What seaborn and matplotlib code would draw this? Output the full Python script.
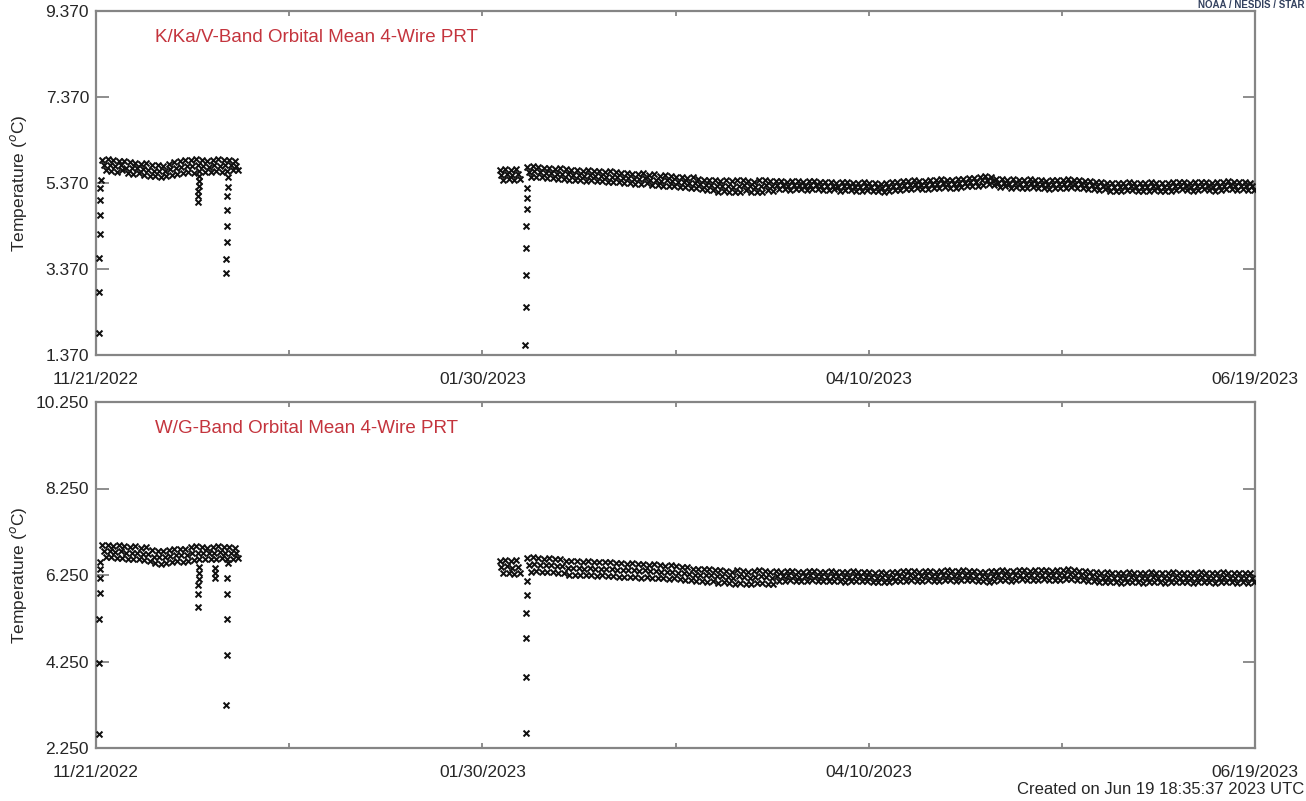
import numpy as np
import pandas as pd
import matplotlib
matplotlib.use("Agg")
import matplotlib.pyplot as plt
import matplotlib.dates as mdates
import seaborn as sns

# ---------------------------------------------------------------------------
# Orbital-mean PRT temperatures (deg C).  Each segment lists, per day, the
# warmest, a typical and the coolest orbital mean of that day; the transient
# lists hold single orbits after instrument restarts.
# ---------------------------------------------------------------------------
START_DATE = "2022-11-21"
END_DATE = "2023-06-19"

# K/Ka/V-band
kav_seg1_day0 = 1
kav_seg1_hi = [5.91, 5.93, 5.91, 5.88, 5.88, 5.86, 5.83, 5.81, 5.83, 5.79, 5.79, 5.77, 5.81,
               5.86, 5.88, 5.91, 5.91, 5.93, 5.91, 5.88, 5.91, 5.93, 5.91, 5.91, 5.88]
kav_seg1_mid = [5.80, 5.78, 5.77, 5.79, 5.73, 5.72, 5.71, 5.69, 5.67, 5.66, 5.66, 5.64, 5.69,
                5.73, 5.74, 5.76, 5.77, 5.78, 5.77, 5.75, 5.79, 5.77, 5.78, 5.80, 5.77]
kav_seg1_lo = [5.67, 5.65, 5.63, 5.67, 5.60, 5.58, 5.60, 5.56, 5.53, 5.53, 5.51, 5.53, 5.56,
               5.58, 5.60, 5.63, 5.60, 5.65, 5.63, 5.63, 5.65, 5.63, 5.65, 5.67, 5.67]
kav_seg2_day0 = 73
kav_seg2_hi = [5.67, 5.70, 5.67, 5.70]
kav_seg2_mid = [5.56, 5.57, 5.55, 5.58]
kav_seg2_lo = [5.44, 5.46, 5.44, 5.46]
kav_seg3_day0 = 78
kav_seg3_hi = [5.75, 5.77, 5.75, 5.72, 5.73, 5.70, 5.71, 5.70, 5.68, 5.67,
               5.65, 5.68, 5.65, 5.66, 5.63, 5.64, 5.62, 5.61, 5.60, 5.58,
               5.59, 5.61, 5.56, 5.57, 5.54, 5.56, 5.53, 5.51, 5.52, 5.49,
               5.50, 5.47, 5.44, 5.45, 5.43, 5.42, 5.44, 5.41, 5.43, 5.44,
               5.42, 5.40, 5.43, 5.45, 5.42, 5.41, 5.42, 5.39, 5.41, 5.42,
               5.39, 5.41, 5.42, 5.39, 5.39, 5.40, 5.37, 5.39, 5.40, 5.37,
               5.36, 5.39, 5.37, 5.36, 5.34, 5.37, 5.39, 5.40, 5.41, 5.42,
               5.44, 5.41, 5.42, 5.44, 5.43, 5.46, 5.44, 5.43, 5.46, 5.47,
               5.48, 5.49, 5.52, 5.54, 5.51, 5.46, 5.47, 5.44, 5.46, 5.44,
               5.43, 5.46, 5.44, 5.43, 5.41, 5.44, 5.43, 5.44, 5.46, 5.43,
               5.44, 5.41, 5.42, 5.39, 5.40, 5.37, 5.36, 5.37, 5.38, 5.39,
               5.37, 5.36, 5.37, 5.39, 5.37, 5.36, 5.37, 5.39, 5.40, 5.39,
               5.37, 5.39, 5.40, 5.39, 5.37, 5.39, 5.40, 5.41, 5.39, 5.40, 5.39, 5.38]
kav_seg3_mid = [5.63, 5.64, 5.62, 5.61, 5.60, 5.58, 5.59, 5.58, 5.56, 5.55,
                5.53, 5.55, 5.53, 5.54, 5.51, 5.52, 5.50, 5.49, 5.48, 5.46,
                5.47, 5.48, 5.44, 5.45, 5.42, 5.44, 5.41, 5.39, 5.40, 5.37,
                5.38, 5.35, 5.32, 5.33, 5.30, 5.30, 5.31, 5.28, 5.30, 5.32,
                5.30, 5.27, 5.30, 5.33, 5.30, 5.32, 5.33, 5.30, 5.32, 5.33,
                5.30, 5.32, 5.33, 5.30, 5.30, 5.31, 5.28, 5.30, 5.31, 5.28,
                5.27, 5.30, 5.28, 5.27, 5.25, 5.28, 5.30, 5.31, 5.32, 5.33,
                5.35, 5.32, 5.33, 5.35, 5.34, 5.37, 5.35, 5.34, 5.37, 5.38,
                5.39, 5.40, 5.43, 5.45, 5.42, 5.37, 5.38, 5.35, 5.37, 5.35,
                5.34, 5.37, 5.35, 5.34, 5.32, 5.35, 5.34, 5.35, 5.37, 5.34,
                5.35, 5.32, 5.33, 5.30, 5.31, 5.28, 5.27, 5.28, 5.29, 5.30,
                5.28, 5.27, 5.28, 5.30, 5.28, 5.27, 5.28, 5.30, 5.31, 5.30,
                5.28, 5.30, 5.31, 5.30, 5.28, 5.30, 5.31, 5.32, 5.30, 5.31, 5.30, 5.29]
kav_seg3_lo = [5.51, 5.52, 5.50, 5.49, 5.48, 5.46, 5.47, 5.45, 5.44, 5.44,
               5.41, 5.43, 5.41, 5.41, 5.39, 5.40, 5.39, 5.37, 5.36, 5.34,
               5.35, 5.36, 5.32, 5.33, 5.30, 5.31, 5.29, 5.27, 5.27, 5.25,
               5.26, 5.23, 5.20, 5.21, 5.17, 5.18, 5.17, 5.15, 5.17, 5.20,
               5.17, 5.15, 5.17, 5.20, 5.18, 5.23, 5.23, 5.21, 5.23, 5.24,
               5.21, 5.23, 5.24, 5.21, 5.21, 5.22, 5.19, 5.21, 5.21, 5.19,
               5.18, 5.21, 5.19, 5.18, 5.16, 5.19, 5.21, 5.21, 5.23, 5.24,
               5.26, 5.23, 5.24, 5.26, 5.25, 5.28, 5.26, 5.25, 5.28, 5.29,
               5.30, 5.31, 5.33, 5.35, 5.32, 5.28, 5.29, 5.26, 5.28, 5.26,
               5.25, 5.28, 5.26, 5.25, 5.23, 5.26, 5.25, 5.26, 5.28, 5.25,
               5.26, 5.23, 5.24, 5.21, 5.22, 5.19, 5.18, 5.19, 5.20, 5.21,
               5.19, 5.18, 5.19, 5.21, 5.19, 5.18, 5.19, 5.21, 5.22, 5.21,
               5.19, 5.21, 5.22, 5.21, 5.19, 5.21, 5.22, 5.23, 5.21, 5.22, 5.21, 5.20]
kav_dip_days = [0.50, 0.55, 0.60, 0.65, 0.70, 0.75, 0.80, 0.85,
                18.45, 18.50, 18.55, 18.60, 18.65, 18.70,
                23.55, 23.60, 23.65, 23.70, 23.75, 23.80, 23.85, 23.90,
                77.80, 77.85, 77.90, 77.95, 78.00, 78.05, 78.10, 78.15]
kav_dip_temps = [1.88, 2.83, 3.62, 4.18, 4.63, 4.97, 5.25, 5.45,
                 4.93, 5.07, 5.18, 5.30, 5.42, 5.53,
                 3.28, 3.60, 4.00, 4.37, 4.74, 5.07, 5.28, 5.51,
                 1.60, 2.48, 3.23, 3.86, 4.37, 4.76, 5.02, 5.25]

# W/G-band
wg_seg1_day0 = 1
wg_seg1_hi = [6.94, 6.95, 6.93, 6.94, 6.92, 6.90, 6.91, 6.88, 6.89, 6.82, 6.80, 6.81, 6.83,
              6.85, 6.86, 6.84, 6.90, 6.92, 6.89, 6.88, 6.90, 6.91, 6.89, 6.90, 6.88]
wg_seg1_mid = [6.80, 6.81, 6.78, 6.80, 6.77, 6.76, 6.76, 6.74, 6.73, 6.67, 6.66, 6.67, 6.69,
               6.71, 6.71, 6.71, 6.75, 6.77, 6.75, 6.75, 6.76, 6.78, 6.75, 6.77, 6.77]
wg_seg1_lo = [6.67, 6.66, 6.64, 6.65, 6.63, 6.62, 6.61, 6.60, 6.58, 6.53, 6.51, 6.53, 6.55,
              6.57, 6.56, 6.58, 6.60, 6.62, 6.61, 6.63, 6.62, 6.64, 6.62, 6.63, 6.65]
wg_seg2_day0 = 73
wg_seg2_hi = [6.58, 6.60, 6.57, 6.59]
wg_seg2_mid = [6.44, 6.45, 6.42, 6.44]
wg_seg2_lo = [6.29, 6.30, 6.28, 6.30]
wg_seg3_day0 = 78
wg_seg3_hi = [6.64, 6.66, 6.64, 6.63, 6.65, 6.62, 6.61, 6.58, 6.57, 6.58,
              6.56, 6.57, 6.55, 6.56, 6.54, 6.55, 6.53, 6.52, 6.51, 6.52,
              6.50, 6.51, 6.49, 6.50, 6.47, 6.46, 6.47, 6.45, 6.44, 6.43,
              6.40, 6.39, 6.38, 6.39, 6.36, 6.37, 6.35, 6.33, 6.36, 6.34,
              6.33, 6.35, 6.36, 6.34, 6.33, 6.34, 6.33, 6.35, 6.34, 6.32,
              6.33, 6.35, 6.34, 6.33, 6.32, 6.34, 6.33, 6.31, 6.32, 6.34,
              6.33, 6.32, 6.31, 6.30, 6.31, 6.30, 6.32, 6.33, 6.34, 6.35,
              6.34, 6.33, 6.35, 6.34, 6.33, 6.35, 6.36, 6.34, 6.35, 6.36,
              6.35, 6.34, 6.33, 6.32, 6.34, 6.35, 6.36, 6.34, 6.35, 6.37,
              6.36, 6.35, 6.36, 6.37, 6.36, 6.35, 6.36, 6.37, 6.38, 6.36,
              6.35, 6.34, 6.33, 6.31, 6.30, 6.31, 6.30, 6.29, 6.30, 6.31,
              6.30, 6.29, 6.30, 6.31, 6.30, 6.29, 6.30, 6.31, 6.30, 6.30,
              6.29, 6.30, 6.31, 6.30, 6.29, 6.30, 6.31, 6.30, 6.29, 6.30, 6.29, 6.30]
wg_seg3_mid = [6.49, 6.50, 6.48, 6.47, 6.49, 6.46, 6.45, 6.42, 6.41, 6.42,
               6.40, 6.41, 6.39, 6.40, 6.38, 6.39, 6.37, 6.36, 6.36, 6.37,
               6.35, 6.36, 6.34, 6.35, 6.32, 6.31, 6.32, 6.30, 6.29, 6.28,
               6.26, 6.25, 6.24, 6.25, 6.22, 6.23, 6.20, 6.19, 6.22, 6.20,
               6.19, 6.21, 6.22, 6.20, 6.19, 6.23, 6.22, 6.24, 6.23, 6.21,
               6.22, 6.24, 6.23, 6.22, 6.21, 6.23, 6.22, 6.20, 6.21, 6.23,
               6.22, 6.21, 6.20, 6.19, 6.20, 6.19, 6.21, 6.22, 6.23, 6.24,
               6.23, 6.22, 6.24, 6.23, 6.22, 6.24, 6.25, 6.23, 6.24, 6.25,
               6.24, 6.23, 6.22, 6.20, 6.23, 6.24, 6.25, 6.23, 6.24, 6.26,
               6.25, 6.24, 6.25, 6.26, 6.25, 6.24, 6.25, 6.26, 6.27, 6.25,
               6.24, 6.23, 6.22, 6.20, 6.19, 6.20, 6.19, 6.18, 6.19, 6.20,
               6.19, 6.18, 6.19, 6.20, 6.19, 6.18, 6.19, 6.20, 6.19, 6.19,
               6.18, 6.19, 6.20, 6.19, 6.18, 6.19, 6.20, 6.19, 6.18, 6.19, 6.18, 6.19]
wg_seg3_lo = [6.33, 6.34, 6.32, 6.31, 6.33, 6.30, 6.29, 6.26, 6.25, 6.26,
              6.24, 6.25, 6.23, 6.24, 6.22, 6.23, 6.21, 6.20, 6.20, 6.21,
              6.19, 6.20, 6.18, 6.19, 6.17, 6.16, 6.17, 6.15, 6.14, 6.13,
              6.11, 6.10, 6.09, 6.10, 6.07, 6.08, 6.06, 6.04, 6.07, 6.05,
              6.04, 6.06, 6.07, 6.05, 6.04, 6.12, 6.11, 6.13, 6.12, 6.10,
              6.11, 6.13, 6.12, 6.11, 6.10, 6.12, 6.11, 6.09, 6.10, 6.12,
              6.11, 6.10, 6.09, 6.08, 6.09, 6.08, 6.10, 6.11, 6.12, 6.13,
              6.12, 6.11, 6.13, 6.12, 6.11, 6.13, 6.14, 6.12, 6.13, 6.14,
              6.13, 6.12, 6.11, 6.08, 6.12, 6.13, 6.14, 6.12, 6.13, 6.15,
              6.14, 6.13, 6.14, 6.15, 6.14, 6.13, 6.14, 6.15, 6.16, 6.14,
              6.13, 6.12, 6.11, 6.09, 6.08, 6.09, 6.08, 6.07, 6.08, 6.09,
              6.08, 6.07, 6.08, 6.09, 6.08, 6.07, 6.08, 6.09, 6.08, 6.08,
              6.07, 6.08, 6.09, 6.08, 6.07, 6.08, 6.09, 6.08, 6.07, 6.08, 6.07, 6.08]
wg_dip_days = [0.50, 0.55, 0.60, 0.65, 0.70, 0.75, 0.80,
               18.45, 18.50, 18.55, 18.60, 18.65, 18.70,
               21.55, 21.60, 21.65,
               23.60, 23.65, 23.70, 23.75, 23.80, 23.85,
               77.85, 77.90, 77.95, 78.00, 78.05, 78.10]
wg_dip_temps = [2.57, 4.22, 5.23, 5.83, 6.18, 6.39, 6.55,
                5.51, 5.81, 6.02, 6.16, 6.30, 6.43,
                6.18, 6.30, 6.42,
                3.25, 4.40, 5.23, 5.81, 6.18, 6.53,
                2.60, 3.89, 4.80, 5.37, 5.79, 6.11]

panel_titles = ["K/Ka/V-Band Orbital Mean 4-Wire PRT", "W/G-Band Orbital Mean 4-Wire PRT"]
kav_yticks = [1.37, 3.37, 5.37, 7.37, 9.37]
wg_yticks = [2.25, 4.25, 6.25, 8.25, 10.25]
date_ticks = ["2022-11-21", "2023-01-30", "2023-04-10", "2023-06-19"]
date_minor_ticks = ["2022-12-26", "2023-03-06", "2023-05-15"]


def build_frame(segments, dip_days, dip_temps):
    """Turn per-day warm/typical/cool orbit readings plus transients into one table."""
    base = pd.Timestamp(START_DATE)
    rows_t, rows_v = [], []
    for day0, hi, mid, lo in segments:
        days = day0 + np.arange(len(hi))
        rows_t += list(days + 0.15) + list(days + 0.45) + list(days + 0.75)
        rows_v += list(hi) + list(mid) + list(lo)
    rows_t += list(dip_days)
    rows_v += list(dip_temps)
    return pd.DataFrame({
        "time": base + pd.to_timedelta(np.array(rows_t), unit="D"),
        "temp": rows_v,
    })


kav_df = build_frame([(kav_seg1_day0, kav_seg1_hi, kav_seg1_mid, kav_seg1_lo),
                      (kav_seg2_day0, kav_seg2_hi, kav_seg2_mid, kav_seg2_lo),
                      (kav_seg3_day0, kav_seg3_hi, kav_seg3_mid, kav_seg3_lo)],
                     kav_dip_days, kav_dip_temps)
wg_df = build_frame([(wg_seg1_day0, wg_seg1_hi, wg_seg1_mid, wg_seg1_lo),
                     (wg_seg2_day0, wg_seg2_hi, wg_seg2_mid, wg_seg2_lo),
                     (wg_seg3_day0, wg_seg3_hi, wg_seg3_mid, wg_seg3_lo)],
                    wg_dip_days, wg_dip_temps)

sns.set_theme(style="white")
plt.rcParams["font.family"] = ["Liberation Sans", "DejaVu Sans"]

W, H = 1306, 801
fig = plt.figure(figsize=(W / 100, H / 100), dpi=100)
ax_left, ax_right = 96, 1255
boxes = [(11, 355), (402, 748)]
axes = [fig.add_axes([ax_left / W, 1 - b / H, (ax_right - ax_left) / W, (b - t) / H])
        for t, b in boxes]

spine_gray = "#858585"
text_dark = "#262626"
title_red = "#c4343d"

for ax, df, yticks, title in zip(axes, [kav_df, wg_df], [kav_yticks, wg_yticks], panel_titles):
    sns.scatterplot(data=df, x="time", y="temp", marker="x", s=18, linewidth=1.45,
                    color="#111111", ax=ax, legend=False, zorder=3)
    ax.set_xlim(pd.Timestamp(START_DATE), pd.Timestamp(END_DATE))
    ax.set_ylim(yticks[0], yticks[-1])
    ax.set_yticks(yticks)
    ax.set_yticklabels([f"{v:.3f}" for v in yticks])
    ax.set_xticks(pd.to_datetime(date_ticks))
    ax.set_xticks(pd.to_datetime(date_minor_ticks), minor=True)
    ax.xaxis.set_major_formatter(mdates.DateFormatter("%m/%d/%Y"))
    ax.set_xlabel("")
    ax.set_ylabel("Temperature ($^{o}$C)", fontsize=12.5, color=text_dark)
    ax.yaxis.set_label_coords(-0.058, 0.5)
    ax.tick_params(axis="x", which="both", direction="in", length=3.5, width=1.3,
                   color=spine_gray, top=True, bottom=True, labelsize=12.5,
                   labelcolor=text_dark, pad=12)
    ax.tick_params(axis="y", which="major", direction="in", length=9, width=1.3,
                   color=spine_gray, left=True, right=True, labelsize=12.5,
                   labelcolor=text_dark, pad=5)
    for sp in ax.spines.values():
        sp.set_color(spine_gray)
        sp.set_linewidth(1.6)
    ax.grid(False)
    ax.text(0.0508, 0.922, title, transform=ax.transAxes, color=title_red,
            fontsize=13.5, ha="left", va="center")

fig.text(1 - 1 / W, 1 - 0.5 / H, "NOAA / NESDIS / STAR", fontsize=7, fontweight="bold",
         color="#33415f", ha="right", va="top",
         family=["Liberation Sans Narrow", "Liberation Sans", "DejaVu Sans"])
fig.text(1 - 2 / W, 1 - 790 / H, "Created on Jun 19 18:35:37 2023 UTC", fontsize=12,
         color=text_dark, ha="right", va="center")

fig.savefig("out.png", dpi=100)
